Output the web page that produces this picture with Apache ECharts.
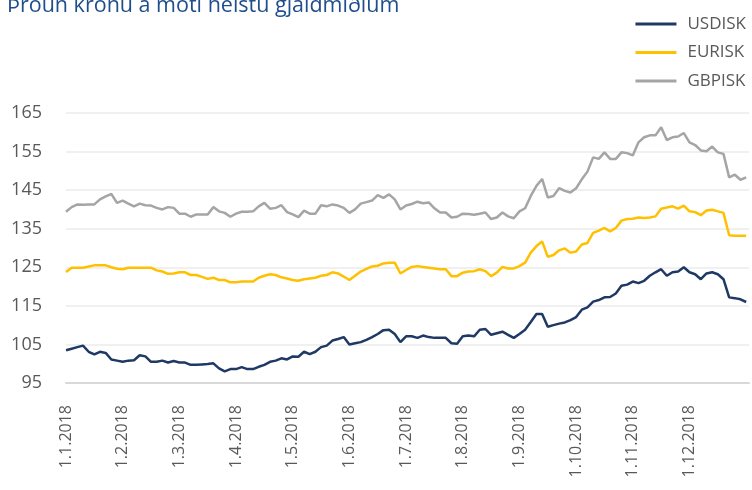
<!DOCTYPE html>
<html>
<head>
<meta charset="utf-8">
<script src="https://cdn.jsdelivr.net/npm/echarts@6/dist/echarts.min.js"></script>
<style>
  html, body { margin: 0; padding: 0; background: #fff; }
  #chart { width: 752px; height: 490px; }
</style>
</head>
<body>
<div id="chart"></div>
<script>
// month labels on x axis (one per month, evenly spaced)
const tickLabels = ['1.1.2018', '1.2.2018', '1.3.2018', '1.4.2018', '1.5.2018', '1.6.2018',
  '1.7.2018', '1.8.2018', '1.9.2018', '1.10.2018', '1.11.2018', '1.12.2018'];
// values read every 0.1 month from the start of the year
const step = 0.1;
const usdisk = [
  103.5, 103.9, 104.3, 104.7, 103.1, 102.4, 103.1, 102.8, 101.1, 100.8,
  100.5, 100.8, 100.9, 102.2, 101.9, 100.5, 100.5, 100.8, 100.3, 100.7,
  100.3, 100.3, 99.7, 99.7, 99.8, 99.9, 100.1, 98.8, 98.0, 98.6,
  98.6, 99.1, 98.6, 98.6, 99.2, 99.7, 100.5, 100.8, 101.4, 101.1,
  101.9, 101.8, 103.1, 102.5, 103.1, 104.3, 104.7, 106.0, 106.4, 106.9,
  105.0, 105.3, 105.6, 106.2, 106.9, 107.7, 108.7, 108.8, 107.7, 105.6,
  107.1, 107.1, 106.7, 107.3, 106.9, 106.7, 106.7, 106.7, 105.3, 105.2,
  107.1, 107.3, 107.1, 108.8, 109.0, 107.5, 107.9, 108.3, 107.5, 106.7,
  107.7, 108.8, 110.8, 112.9, 112.9, 109.6, 110.0, 110.4, 110.7, 111.3,
  112.1, 114.0, 114.6, 116.1, 116.5, 117.2, 117.3, 118.2, 120.2, 120.5,
  121.3, 120.9, 121.5, 122.8, 123.7, 124.5, 122.8, 123.7, 123.9, 125.0,
  123.7, 123.2, 121.9, 123.4, 123.7, 123.2, 121.9, 117.2, 117.0, 116.7,
  116.0
];
const eurisk = [
  123.8, 124.9, 124.9, 124.9, 125.2, 125.5, 125.5, 125.5, 125.0, 124.6,
  124.5, 124.9, 124.9, 124.9, 124.9, 124.9, 124.2, 123.9, 123.3, 123.4,
  123.7, 123.7, 123.0, 123.0, 122.5, 122.0, 122.3, 121.7, 121.7, 121.1,
  121.1, 121.3, 121.3, 121.3, 122.3, 122.8, 123.2, 123.0, 122.4, 122.1,
  121.7, 121.5, 121.9, 122.1, 122.3, 122.8, 123.0, 123.7, 123.4, 122.6,
  121.7, 122.8, 123.9, 124.6, 125.2, 125.4, 126.0, 126.2, 126.2, 123.4,
  124.3, 125.1, 125.3, 125.1, 124.9, 124.7, 124.5, 124.5, 122.7, 122.7,
  123.6, 123.9, 124.0, 124.5, 124.0, 122.7, 123.6, 125.1, 124.7, 124.7,
  125.3, 126.2, 128.8, 130.5, 131.7, 127.7, 128.2, 129.4, 129.9, 128.8,
  129.1, 130.9, 131.3, 133.9, 134.5, 135.2, 134.3, 135.2, 137.1, 137.5,
  137.6, 137.9, 137.8, 137.9, 138.2, 140.2, 140.5, 140.8, 140.2, 141.0,
  139.5, 139.3, 138.5, 139.7, 139.9, 139.5, 139.1, 133.3, 133.2, 133.2,
  133.2
];
const gbpisk = [
  139.4, 140.6, 141.3, 141.2, 141.3, 141.3, 142.6, 143.4, 144.0, 141.7,
  142.3, 141.5, 140.8, 141.5, 141.1, 141.0, 140.4, 140.0, 140.6, 140.4,
  138.9, 138.9, 138.1, 138.7, 138.7, 138.7, 140.6, 139.5, 139.1, 138.1,
  138.9, 139.4, 139.4, 139.5, 140.8, 141.7, 140.2, 140.4, 141.1, 139.3,
  138.7, 138.0, 139.7, 138.9, 138.9, 141.1, 140.8, 141.3, 141.0, 140.4,
  139.1, 140.0, 141.5, 141.9, 142.3, 143.7, 143.0, 143.9, 142.6, 140.0,
  141.0, 141.4, 142.0, 141.6, 141.8, 140.3, 139.2, 139.2, 137.9, 138.1,
  138.9, 138.8, 138.6, 138.9, 139.2, 137.5, 137.9, 139.2, 138.2, 137.7,
  139.5, 140.3, 143.5, 146.1, 147.9, 143.1, 143.5, 145.5, 144.8, 144.4,
  145.5, 147.8, 149.8, 153.5, 153.1, 154.8, 153.1, 153.1, 154.8, 154.6,
  154.0, 157.4, 158.7, 159.2, 159.2, 161.3, 158.0, 158.7, 158.9, 159.8,
  157.4, 156.7, 155.3, 155.1, 156.3, 154.8, 154.4, 148.3, 149.0, 147.7,
  148.3
];

const toPoints = (arr) => arr.map((v, i) => [+(i * step).toFixed(2), v]);
const labelColor = '#595959';
const font = "'Open Sans', 'Noto Sans', sans-serif";

const chart = echarts.init(document.getElementById('chart'), null, { renderer: 'canvas' });
chart.setOption({
  animation: false,
  title: {
    text: 'Þróun krónu á móti helstu gjaldmiðlum',
    left: 2, top: -10,
    textStyle: { color: '#1f4e8c', fontSize: 21.5, fontWeight: 'normal', fontFamily: font }
  },
  legend: {
    orient: 'vertical', right: 1, top: 9,
    icon: 'rect', itemWidth: 41, itemHeight: 3, itemGap: 8.5,
    textStyle: { color: labelColor, fontSize: 17, fontFamily: font, lineHeight: 20, padding: [0, 0, 0, 6] },
    data: ['USDISK', 'EURISK', 'GBPISK']
  },
  grid: { left: 66, right: 3, top: 113, bottom: 107, containLabel: false },
  xAxis: {
    type: 'value', min: 0, max: 12.05, interval: 1,
    axisLine: { show: true, lineStyle: { color: '#d9d9d9', width: 2 } },
    axisTick: { show: false },
    splitLine: { show: false },
    axisLabel: {
      rotate: 90, margin: 22, color: labelColor, fontSize: 16, fontFamily: font,
      showMaxLabel: false,
      formatter: (v) => Number.isInteger(v) && tickLabels[v] ? tickLabels[v] : ''
    }
  },
  yAxis: {
    type: 'value', min: 95, max: 165, interval: 10,
    axisLine: { show: false }, axisTick: { show: false },
    splitLine: { lineStyle: { color: '#f0f0f0', width: 2 } },
    axisLabel: { margin: 24, color: labelColor, fontSize: 18, fontFamily: font }
  },
  series: [
    { name: 'USDISK', type: 'line', data: toPoints(usdisk), symbol: 'none',
      lineStyle: { color: '#1f3864', width: 2.5 }, itemStyle: { color: '#1f3864' } },
    { name: 'EURISK', type: 'line', data: toPoints(eurisk), symbol: 'none',
      lineStyle: { color: '#ffc000', width: 2.5 }, itemStyle: { color: '#ffc000' } },
    { name: 'GBPISK', type: 'line', data: toPoints(gbpisk), symbol: 'none',
      lineStyle: { color: '#a5a5a5', width: 2.5 }, itemStyle: { color: '#a5a5a5' } }
  ]
});
</script>
</body>
</html>
